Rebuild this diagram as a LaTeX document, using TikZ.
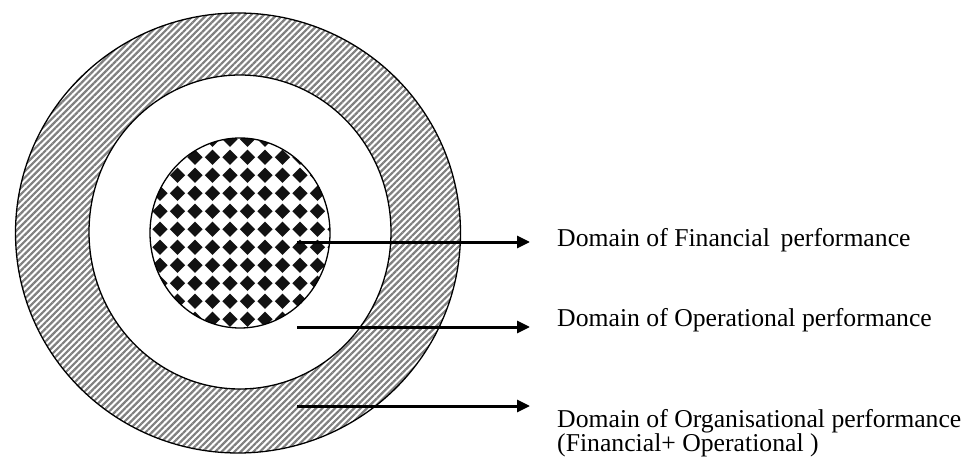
\documentclass[tikz,border=0pt]{standalone}
\usepackage{fontspec}
\setmainfont{Liberation Serif}
\usetikzlibrary{arrows.meta,patterns.meta}
\begin{document}
\begin{tikzpicture}[x=1pt,y=-1pt,
  ring/.style={draw=black,line width=1.3pt},
  pointer/.style={-{Triangle[length=13pt,width=12pt]},line width=3pt,shorten >=27pt},
  caption/.style={anchor=base west,inner sep=0pt,font=\fontsize{25.7}{25.5}\selectfont}]
\useasboundingbox (0,0) rectangle (969,457);

% outer hatched ring (organisational)
\fill[white] (238,233) ellipse [x radius=222.5,y radius=220];
\fill[pattern={Lines[angle=45,distance=4.5pt,line width=2.2pt]},pattern color=black!50]
  (238,233) ellipse [x radius=222.5,y radius=220];
% white ring (operational)
\fill[white] (240,232) ellipse [x radius=151,y radius=157];
% inner chequered disc (financial)
\begin{scope}
  \clip (240,233) ellipse [x radius=90,y radius=95];
  \foreach \i in {-1,...,11}
    \foreach \j in {-4,...,9}
      \fill[black!93] ({160+17.5*\i},{193.3+18*\j}) ++(-7.6,0) -- ++(7.6,-7.6) -- ++(7.6,7.6) -- ++(-7.6,7.6) -- cycle;
\end{scope}
% outlines
\draw[ring] (238,233) ellipse [x radius=222.5,y radius=220];
\draw[ring] (240,232) ellipse [x radius=151,y radius=157];
\draw[ring] (240,233) ellipse [x radius=90,y radius=95];

% captions
\node[caption] (fin) at (557,247) {Domain of Financial\hspace{0.42em}performance};
\node[caption] (ops) at (557,326) {Domain of Operational performance};
\node[caption] (org) at (557,427) {Domain of Organisational performance};
\node[caption] (orgsub) at (557,451) {(Financial+ Operational )};

% pointers
\coordinate (s1) at (297,242);
\coordinate (s2) at (297,327);
\coordinate (s3) at (297,406);
\draw[pointer] (s1) -- (s1 -| fin.west);
\draw[pointer] (s2) -- (s2 -| ops.west);
\draw[pointer] (s3) -- (s3 -| org.west);
\end{tikzpicture}
\end{document}
